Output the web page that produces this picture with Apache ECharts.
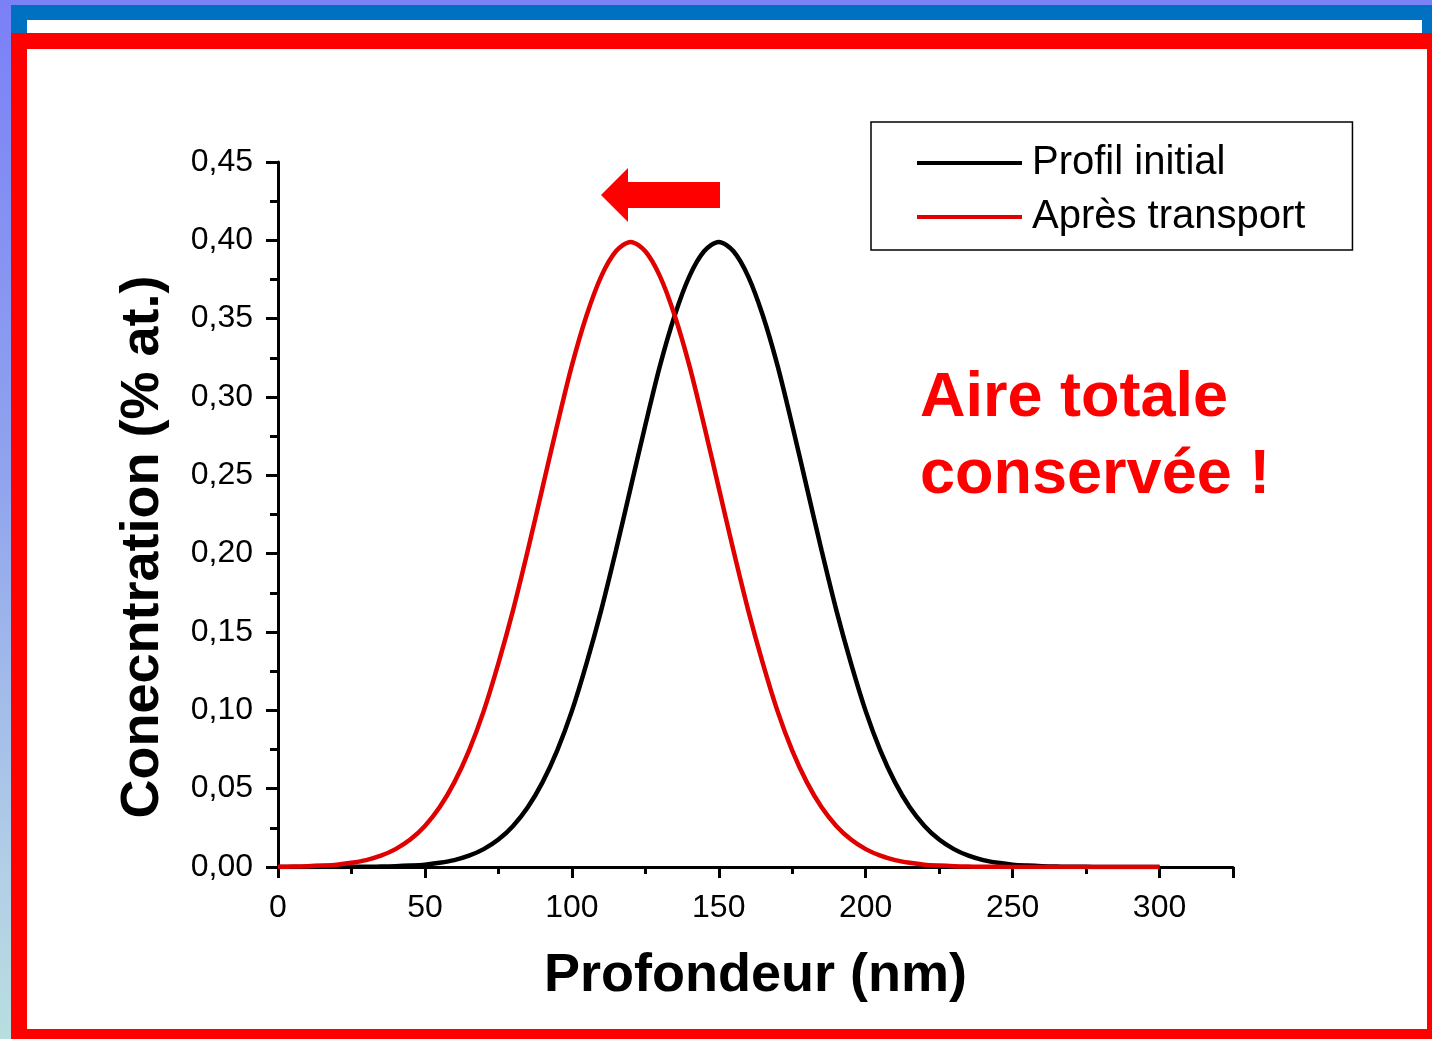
<!DOCTYPE html>
<html>
<head>
<meta charset="utf-8">
<script src="https://cdn.jsdelivr.net/npm/echarts@6/dist/echarts.min.js"></script>
<style>
  html, body { margin: 0; padding: 0; width: 1432px; height: 1039px; overflow: hidden; background: #ffffff; }
  .blk { position: absolute; }
  #chart { position: absolute; left: 0; top: 0; width: 1432px; height: 1039px; }
</style>
</head>
<body>
<div class="blk" style="left:0;top:0;width:1432px;height:5px;background:#7b82f6;"></div>
<div class="blk" style="left:0;top:0;width:11px;height:1039px;background:linear-gradient(#7b80f7 0%, #8fa3ee 45%, #b2d0e6 85%, #b8dee0 100%);"></div>
<div class="blk" style="left:11px;top:5px;width:1421px;height:28px;background:#0070c0;"></div>
<div class="blk" style="left:27px;top:20px;width:1395px;height:13px;background:#ffffff;"></div>
<div class="blk" style="left:11px;top:33px;width:1421px;height:16px;background:#ff0000;"></div>
<div class="blk" style="left:11px;top:33px;width:16px;height:1006px;background:#ff0000;"></div>
<div class="blk" style="left:1427px;top:33px;width:5px;height:1006px;background:#ff0000;"></div>
<div class="blk" style="left:11px;top:1029px;width:1421px;height:10px;background:#ff0000;"></div>
<div id="chart"></div>
<script>
// Depth (nm)
var depth = [0,5,10,15,20,25,30,35,40,45,50,55,60,65,70,75,80,85,90,95,100,105,110,115,120,125,130,135,140,145,150,155,160,165,170,175,180,185,190,195,200,205,210,215,220,225,230,235,240,245,250,255,260,265,270,275,280,285,290,295,300];
// Profil initial (% at.)
var initialProfile = [0,0,0,0,0,0.0001,0.0001,0.0003,0.0005,0.0009,0.0015,0.0027,0.0044,0.0072,0.0114,0.0175,0.0262,0.0381,0.054,0.0743,0.0995,0.130,0.164,0.202,0.242,0.282,0.320,0.352,0.377,0.393,0.399,0.393,0.377,0.352,0.320,0.282,0.242,0.202,0.164,0.130,0.0995,0.0743,0.054,0.0381,0.0262,0.0175,0.0114,0.0072,0.0044,0.0027,0.0015,0.0009,0.0005,0.0003,0.0001,0.0001,0,0,0,0,0];
// Après transport (% at.)
var afterTransport = [0.0001,0.0003,0.0005,0.0009,0.0015,0.0027,0.0044,0.0072,0.0114,0.0175,0.0262,0.0381,0.054,0.0743,0.0995,0.130,0.164,0.202,0.242,0.282,0.320,0.352,0.377,0.393,0.399,0.393,0.377,0.352,0.320,0.282,0.242,0.202,0.164,0.130,0.0995,0.0743,0.054,0.0381,0.0262,0.0175,0.0114,0.0072,0.0044,0.0027,0.0015,0.0009,0.0005,0.0003,0.0001,0.0001,0,0,0,0,0,0,0,0,0,0,0];
var seriesNames = ['Profil initial', 'Après transport'];
var xTitle = 'Profondeur (nm)';
var yTitle = 'Conecntration (% at.)';
var note = ['Aire totale', 'conservée !'];

function zip(xs, ys) { return xs.map(function (x, i) { return [x, ys[i]]; }); }

var FONT = '"Liberation Sans", Arial, Helvetica, sans-serif';
var chart = echarts.init(document.getElementById('chart'), null, { renderer: 'canvas' });
chart.setOption({
  backgroundColor: 'transparent',
  animation: false,
  textStyle: { fontFamily: FONT },
  grid: { left: 278, top: 162, right: 199, bottom: 172, containLabel: false },
  legend: {
    orient: 'vertical',
    left: 871, top: 122,
    padding: [19, 47, 11, 46],
    borderColor: '#000', borderWidth: 1.5, backgroundColor: '#fff',
    itemWidth: 105, itemHeight: 4, itemGap: 10,
    icon: 'rect',
    textStyle: { fontSize: 40, lineHeight: 44, color: '#000', fontFamily: FONT, padding: [0, 0, 0, 5] },
    data: seriesNames
  },
  xAxis: {
    type: 'value', min: 0, max: 325, interval: 50,
    name: xTitle, nameLocation: 'middle', nameGap: 82,
    nameTextStyle: { fontSize: 54, fontWeight: 'bold', color: '#000', fontFamily: FONT },
    axisLine: { show: true, lineStyle: { color: '#000', width: 3 } },
    axisTick: { show: true, length: 11, lineStyle: { color: '#000', width: 3 } },
    minorTick: { show: true, splitNumber: 2, length: 7, lineStyle: { color: '#000', width: 3 } },
    splitLine: { show: false },
    axisLabel: { fontSize: 32, color: '#000', margin: 25, fontFamily: FONT,
      formatter: function (v) { return v % 50 === 0 ? String(v) : ''; } }
  },
  yAxis: {
    type: 'value', min: 0, max: 0.45, interval: 0.05,
    axisLine: { show: true, lineStyle: { color: '#000', width: 3 } },
    axisTick: { show: true, length: 12, lineStyle: { color: '#000', width: 3 } },
    minorTick: { show: true, splitNumber: 2, length: 8, lineStyle: { color: '#000', width: 3 } },
    splitLine: { show: false },
    axisLabel: { fontSize: 32, color: '#000', margin: 25, fontFamily: FONT,
      formatter: function (v) { return v.toFixed(2).replace('.', ','); } }
  },
  series: [
    { name: seriesNames[0], type: 'line', data: zip(depth, initialProfile), smooth: 0.3, showSymbol: false,
      symbol: 'none', color: '#000000', lineStyle: { width: 4.5, color: '#000000' }, z: 2 },
    { name: seriesNames[1], type: 'line', data: zip(depth, afterTransport), smooth: 0.3, showSymbol: false,
      symbol: 'none', color: '#e00000', lineStyle: { width: 4.5, color: '#e00000' }, z: 3 }
  ],
  graphic: [
    { type: 'text', x: 143, y: 547, rotation: Math.PI / 2,
      style: { text: yTitle, font: 'bold 54px ' + FONT, fill: '#000', align: 'center', verticalAlign: 'middle' } },
    { type: 'polygon', shape: { points: [[601,195],[628,168],[628,182],[720,182],[720,208],[628,208],[628,222]] },
      style: { fill: '#ff0000' } },
    { type: 'text', x: 920, y: 399,
      style: { text: note[0], font: 'bold 63px ' + FONT, fill: '#ff0000', align: 'left', verticalAlign: 'middle' } },
    { type: 'text', x: 920, y: 476,
      style: { text: note[1], font: 'bold 63px ' + FONT, fill: '#ff0000', align: 'left', verticalAlign: 'middle' } }
  ]
});
</script>
</body>
</html>
